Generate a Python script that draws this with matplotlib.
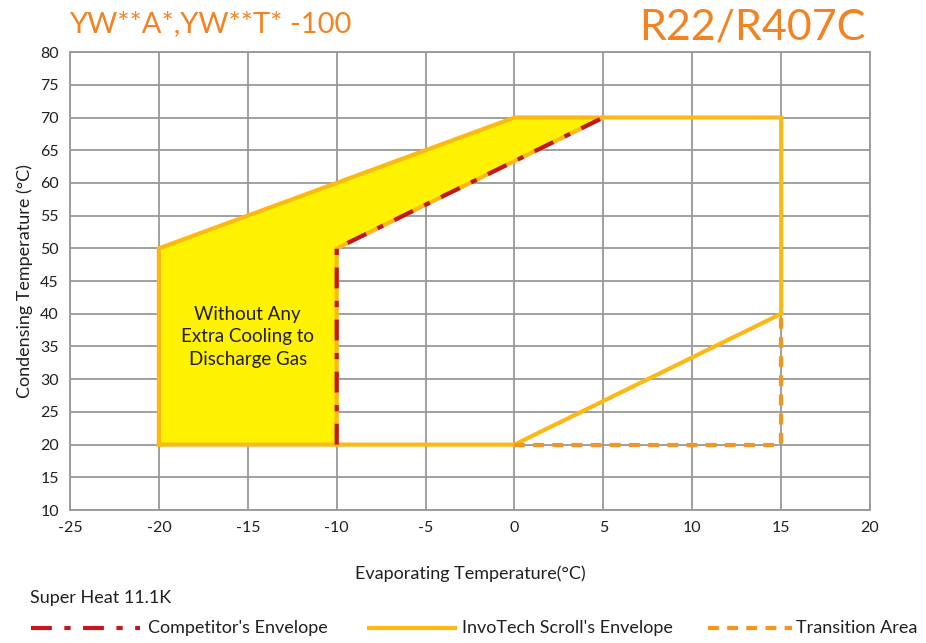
import matplotlib.pyplot as plt
from matplotlib.lines import Line2D

plt.rcParams['font.family'] = ['Lato', 'DejaVu Sans']
plt.rcParams['axes.unicode_minus'] = False

# envelope data (evaporating temp, condensing temp)
invo_x = [-20, -20, -10, 0, 15, 15, 0, -20]
invo_y = [20, 50, 60, 70, 70, 40, 20, 20]
comp_x = [-10, -10, 5]
comp_y = [20, 50, 70]
trans_x = [0, 15, 15]
trans_y = [20, 20, 40]
fill_x = [-20, -20, -10, 0, 5, -10, -10]
fill_y = [20, 50, 60, 70, 70, 50, 20]

xticks = list(range(-25, 21, 5))
yticks = list(range(10, 81, 5))

orange = "#FDB913"
red = "#C4161C"
dash_orange = "#F7941D"
title_orange = "#F58220"

fig = plt.figure(figsize=(9.26, 6.43), dpi=100)
ax = fig.add_axes([0.0756, 0.2068, 0.864, 0.7122])

ax.fill(fill_x, fill_y, color="#FFF200", zorder=1)
ax.plot(invo_x, invo_y, color=orange, lw=3, solid_joinstyle="miter", zorder=3)
ax.plot(comp_x, comp_y, color=orange, lw=3, zorder=3)
ax.plot(comp_x, comp_y, color=red, lw=3, dashes=[5, 3, 1.5, 3], zorder=4)
ax.plot(trans_x, trans_y, color=dash_orange, lw=3, dashes=[2.6, 2], zorder=4)

ax.text(-15, 36.5, "Without Any\nExtra Cooling to\nDischarge Gas", ha="center", va="center",
        fontsize=13.5, color="#231F20", linespacing=1.4, zorder=5)

ax.set_xlim(-25, 20)
ax.set_ylim(10, 80)
ax.set_xticks(xticks)
ax.set_yticks(yticks)
ax.grid(True, color="#999999", lw=1.3, zorder=0)
ax.set_axisbelow(True)
for s in ax.spines.values():
    s.set_color("#999999")
    s.set_linewidth(1.3)
ax.tick_params(length=0, labelsize=11.5, colors="#231F20", pad=8)
ax.set_xlabel("Evaporating Temperature(°C)", fontsize=13, color="#231F20", labelpad=22)
ax.set_ylabel("Condensing Temperature (°C)", fontsize=13, color="#231F20", labelpad=5)

fig.text(0.075, 0.962, "YW**A*,YW**T* -100", fontsize=21, color=title_orange, va="center")
fig.text(0.935, 0.958, "R22/R407C", fontsize=31, color=title_orange, va="center", ha="right")

fig.text(0.032, 0.070, "Super Heat 11.1K", fontsize=13, color="#231F20", va="center")

# legend
ly = 0.023
fig.add_artist(Line2D([0.033, 0.151], [ly, ly], color=red, lw=3, dashes=[5, 3, 1.5, 3]))
fig.text(0.160, ly, "Competitor's Envelope", fontsize=13, color="#231F20", va="center")
fig.add_artist(Line2D([0.398, 0.491], [ly, ly], color=orange, lw=3))
fig.text(0.499, ly, "InvoTech Scroll's Envelope", fontsize=13, color="#231F20", va="center")
fig.add_artist(Line2D([0.765, 0.855], [ly, ly], color=dash_orange, lw=3, dashes=[2.6, 2]))
fig.text(0.860, ly, "Transition Area", fontsize=13, color="#231F20", va="center")

fig.savefig("out.png", dpi=100)
